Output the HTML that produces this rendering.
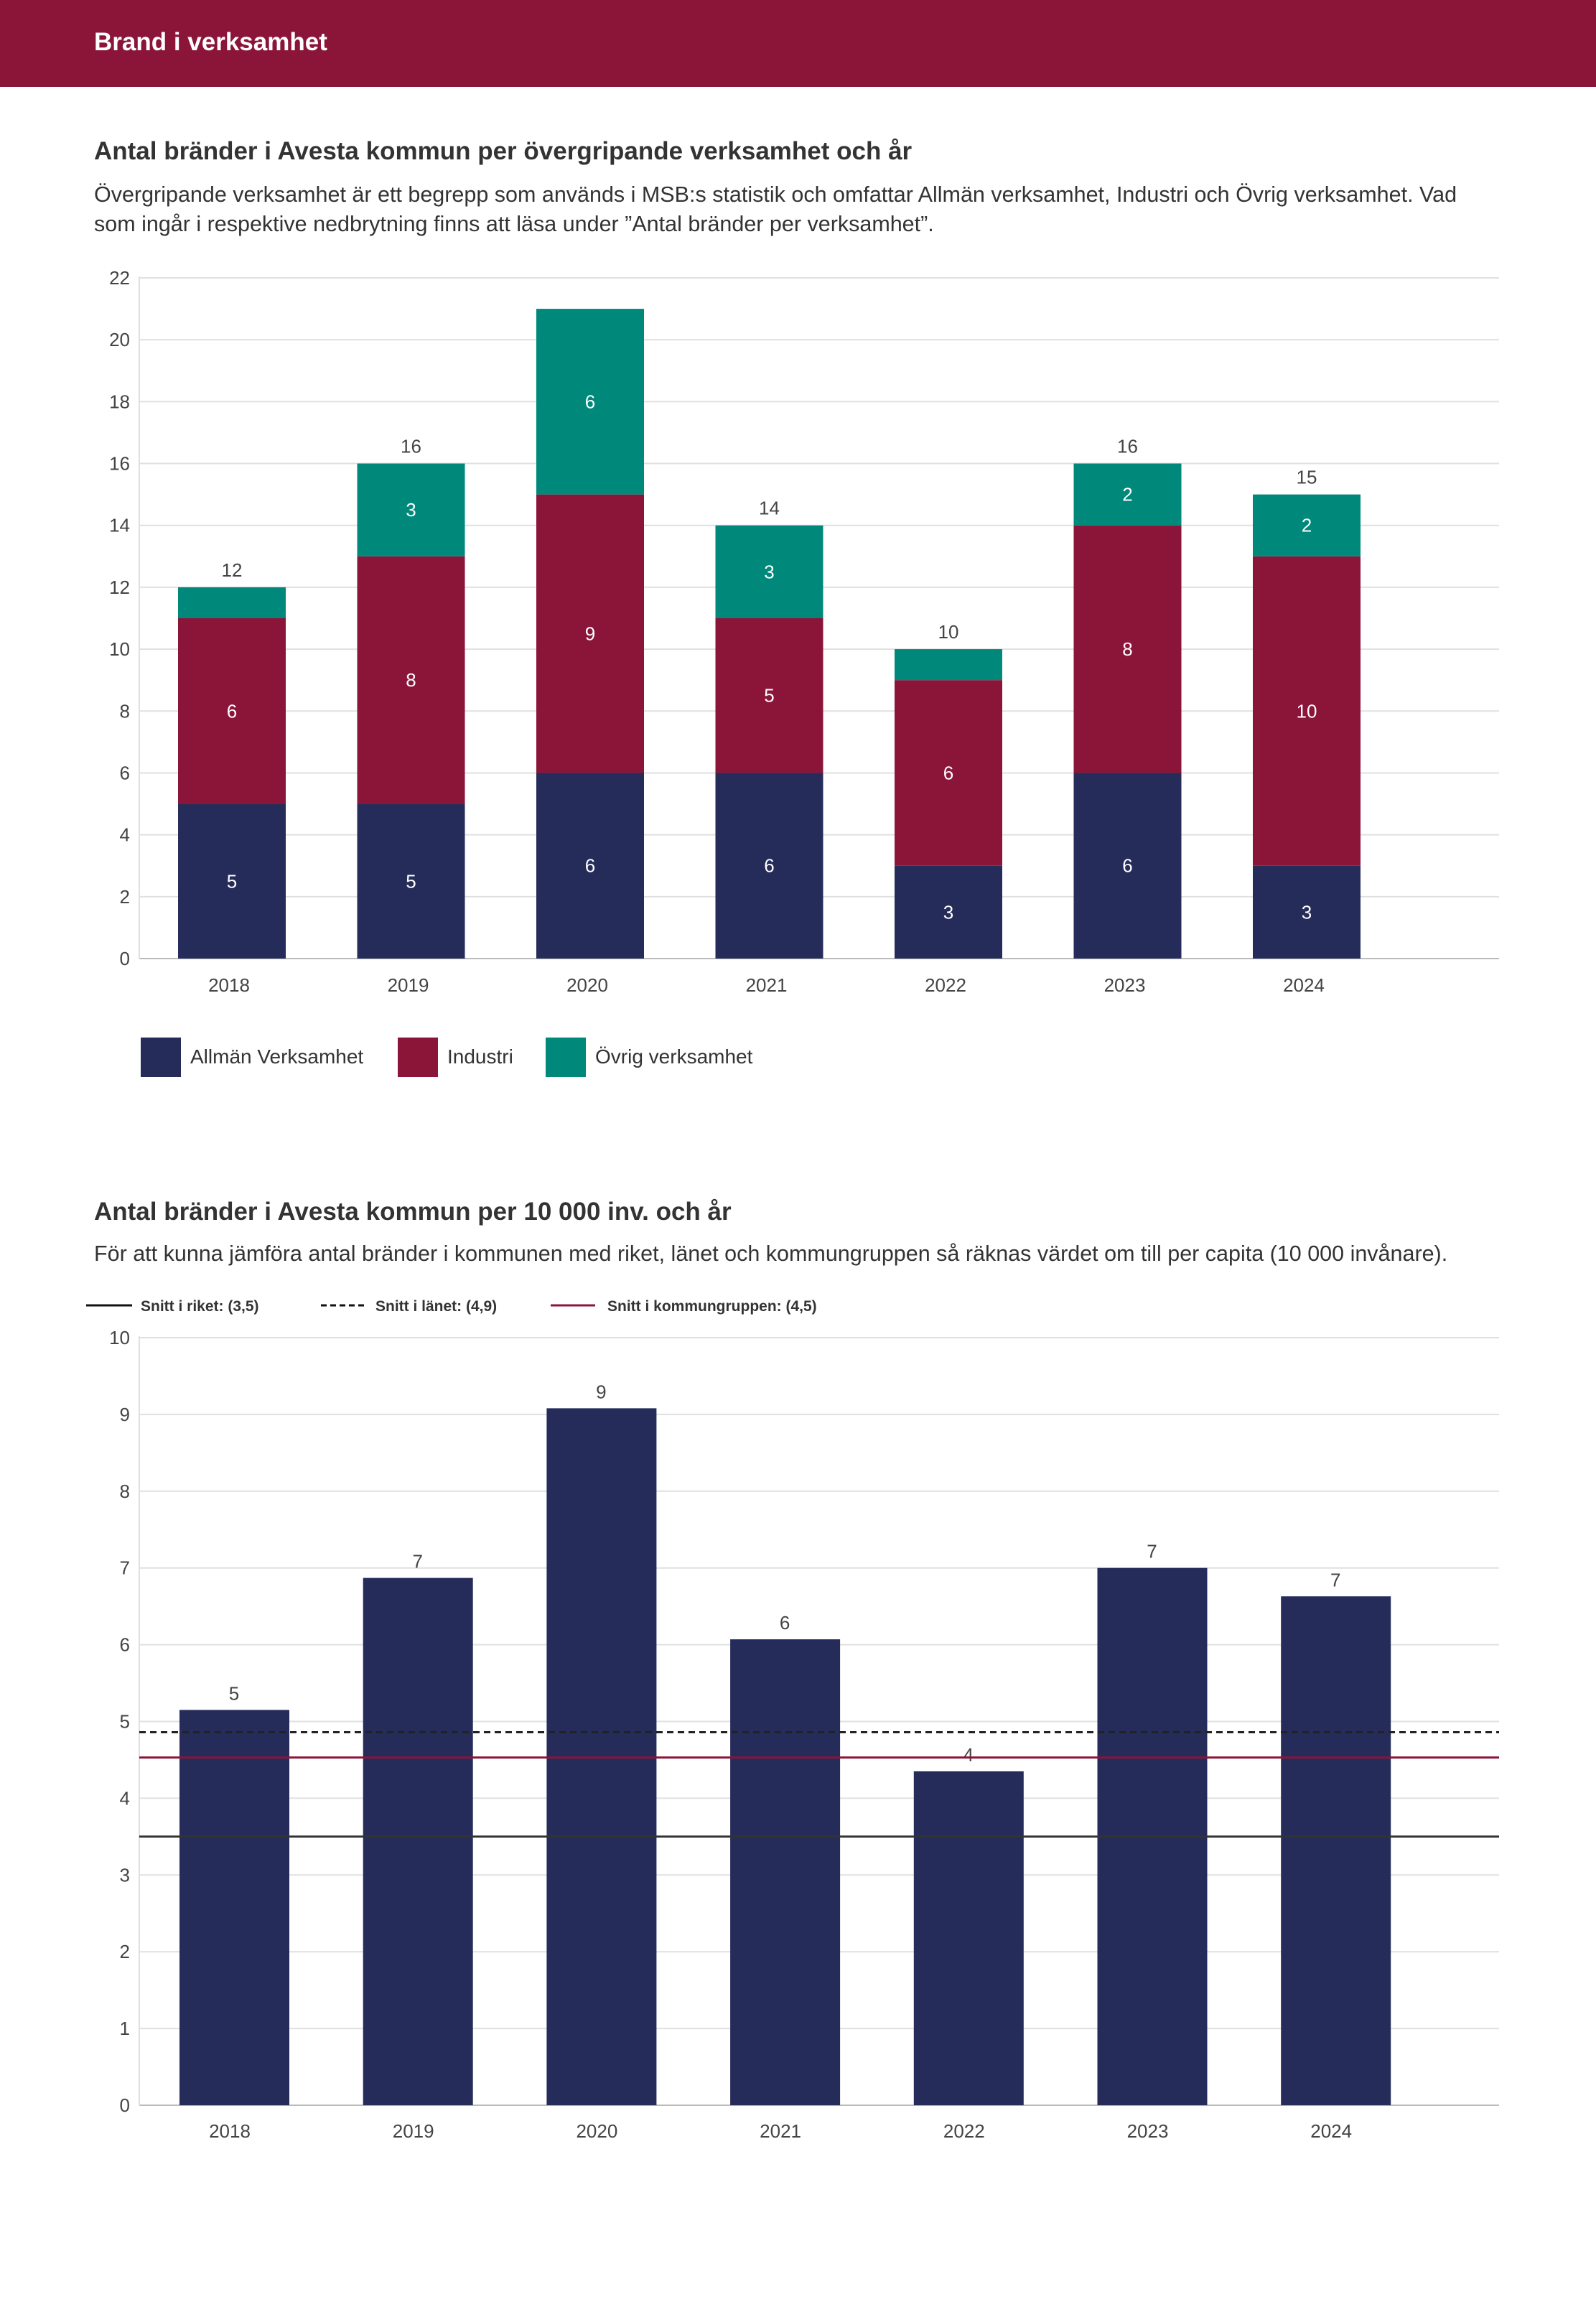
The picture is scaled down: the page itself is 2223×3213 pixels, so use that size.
<!DOCTYPE html>
<html><head><meta charset="utf-8"><style>
html,body{margin:0;padding:0;background:#fff;}
svg{display:block;font-family:"Liberation Sans",sans-serif;}
</style></head><body>
<svg id="s" width="2223" height="3213" viewBox="0 0 2223 3213" xmlns="http://www.w3.org/2000/svg">
<rect x="0" y="0" width="2223" height="121" fill="#8b1538"/>
<text x="131" y="70" font-size="35" font-weight="bold" fill="#fff">Brand i verksamhet</text>
<text x="131" y="222" font-size="35" font-weight="bold" fill="#333">Antal bränder i Avesta kommun per övergripande verksamhet och år</text>
<text x="131" y="281" font-size="30.5" fill="#333">Övergripande verksamhet är ett begrepp som används i MSB:s statistik och omfattar Allmän verksamhet, Industri och Övrig verksamhet. Vad</text>
<text x="131" y="322" font-size="30.5" fill="#333">som ingår i respektive nedbrytning finns att läsa under ”Antal bränder per verksamhet”.</text>
<g id="c1"></g>
<g>
<rect x="196" y="1445" width="56" height="55" fill="#252c5a"/>
<text x="265" y="1481" font-size="28" fill="#333">Allmän Verksamhet</text>
<rect x="554" y="1445" width="56" height="55" fill="#8b1538"/>
<text x="623" y="1481" font-size="28" fill="#333">Industri</text>
<rect x="760" y="1445" width="56" height="55" fill="#00897b"/>
<text x="829" y="1481" font-size="28" fill="#333">Övrig verksamhet</text>
</g>
<text x="131" y="1699" font-size="35" font-weight="bold" fill="#333">Antal bränder i Avesta kommun per 10 000 inv. och år</text>
<text x="131" y="1756" font-size="30.5" fill="#333">För att kunna jämföra antal bränder i kommunen med riket, länet och kommungruppen så räknas värdet om till per capita (10 000 invånare).</text>
<g>
<line x1="120" y1="1818" x2="184" y2="1818" stroke="#111" stroke-width="3"/>
<text x="196" y="1826" font-size="21" font-weight="bold" fill="#333">Snitt i riket: (3,5)</text>
<line x1="447" y1="1818" x2="507" y2="1818" stroke="#111" stroke-width="3" stroke-dasharray="8,5"/>
<text x="523" y="1826" font-size="21" font-weight="bold" fill="#333">Snitt i länet: (4,9)</text>
<line x1="767" y1="1818" x2="829" y2="1818" stroke="#8b1538" stroke-width="3"/>
<text x="846" y="1826" font-size="21" font-weight="bold" fill="#333">Snitt i kommungruppen: (4,5)</text>
</g>
<g id="c2"></g>
</svg>
<script>
const years = ["2018","2019","2020","2021","2022","2023","2024"];
const allman = [5,5,6,6,3,6,3];
const industri = [6,8,9,5,6,8,10];
const ovrig = [1,3,6,3,1,2,2];
const ticks1 = [0,2,4,6,8,10,12,14,16,18,20,22];
const perCapita = [5.15,6.87,9.08,6.07,4.35,7.0,6.63];
const perCapitaLabels = ["5","7","9","6","4","7","7"];
const ticks2 = [0,1,2,3,4,5,6,7,8,9,10];
const riket = 3.5, lanet = 4.86, kommungrupp = 4.53;

const NS="http://www.w3.org/2000/svg";
function mk(parent,tag,attrs,text){const e=document.createElementNS(NS,tag);for(const k in attrs)e.setAttribute(k,attrs[k]);if(text!==undefined)e.textContent=text;parent.appendChild(e);return e;}

const c1=document.getElementById('c1');
const L=194,R=2088;
const y1=v=>1335-v*(1335-387)/22;
const x1=i=>323+i*249.5;
ticks1.forEach(t=>{
  const g=mk(c1,'line',{x1:L,x2:R,y1:y1(t),y2:y1(t),stroke:t===0?'#bbb':'#e0e0e0','stroke-width':2});
  
  
  const tx=mk(c1,'text',{x:181,y:y1(t)+9,'font-size':26,fill:'#444','text-anchor':'end'},String(t));
  
  
});
const ax1=mk(c1,'line',{x1:L,x2:L,y1:385,y2:1335,stroke:'#e0e0e0','stroke-width':2});


const series=[[allman,'#252c5a','allman'],[industri,'#8b1538','industri'],[ovrig,'#00897b','ovrig']];
years.forEach((yr,i)=>{
  let base=0;
  series.forEach(([arr,col,nm])=>{
    const v=arr[i];
    const r=mk(c1,'rect',{x:x1(i)-75,y:y1(base+v),width:150,height:y1(base)-y1(base+v),fill:col});
    
    
    if(v>=2){
      const t=mk(c1,'text',{x:x1(i),y:(y1(base)+y1(base+v))/2+9,'font-size':26,fill:'#fff','text-anchor':'middle'},String(v));
      
      
    }
    base+=v;
  });
  if(base<21){
    const tt=mk(c1,'text',{x:x1(i),y:y1(base)-15,'font-size':26,fill:'#444','text-anchor':'middle'},String(base));
    
    
  }
  const xl=mk(c1,'text',{x:x1(i)-4,y:1381,'font-size':26,fill:'#444','text-anchor':'middle'},yr);
  
  
});

const c2=document.getElementById('c2');
const y2=v=>2932-v*(2932-1863)/10;
const x2=i=>326+i*255.7;
ticks2.forEach(t=>{
  const g=mk(c2,'line',{x1:L,x2:R,y1:y2(t),y2:y2(t),stroke:t===0?'#bbb':'#e0e0e0','stroke-width':2});
  
  
  const tx=mk(c2,'text',{x:181,y:y2(t)+9,'font-size':26,fill:'#444','text-anchor':'end'},String(t));
  
  
});
const ax2=mk(c2,'line',{x1:L,x2:L,y1:1861,y2:2932,stroke:'#e0e0e0','stroke-width':2});


years.forEach((yr,i)=>{
  const v=perCapita[i];
  const r=mk(c2,'rect',{x:x2(i)-76,y:y2(v),width:153,height:y2(0)-y2(v),fill:'#252c5a'});
  
  
  const t=mk(c2,'text',{x:x2(i),y:y2(v)-14,'font-size':26,fill:'#444','text-anchor':'middle'},perCapitaLabels[i]);
  
  
  const xl=mk(c2,'text',{x:x2(i)-6,y:2977,'font-size':26,fill:'#444','text-anchor':'middle'},yr);
  
  
});
const l1=mk(c2,'line',{x1:L,x2:R,y1:y2(riket),y2:y2(riket),stroke:'#333','stroke-width':3});


const l2=mk(c2,'line',{x1:L,x2:R,y1:y2(lanet),y2:y2(lanet),stroke:'#222','stroke-width':3,'stroke-dasharray':'9,6'});


const l3=mk(c2,'line',{x1:L,x2:R,y1:y2(kommungrupp),y2:y2(kommungrupp),stroke:'#8b1538','stroke-width':3});


</script>
</body></html>
